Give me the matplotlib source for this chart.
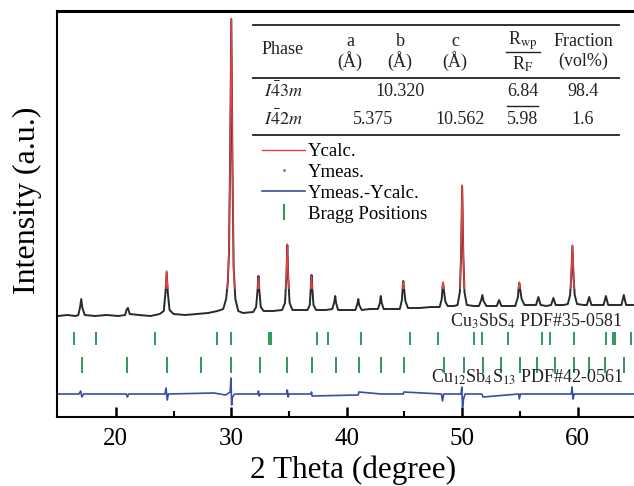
import matplotlib
matplotlib.use('Agg')
import matplotlib.pyplot as plt
from matplotlib.lines import Line2D
from matplotlib.patches import Rectangle

plt.rcParams['font.family'] = ['Liberation Serif', 'DejaVu Serif']
plt.rcParams['mathtext.fontset'] = 'stix'

# observed / calculated profile (2theta, intensity a.u.)
two_theta = [15.0, 15.8, 16.5, 16.75, 16.9, 17.0, 17.1, 17.3, 18.2, 19.2, 20.2, 20.8, 20.95, 21.05, 21.2,
             22.0, 23.0, 23.8, 24.15, 24.3, 24.4, 24.5, 24.65, 25.0, 26.0, 27.0, 28.0, 28.8,
             29.3, 29.55, 29.7, 29.8, 29.9, 30.0, 30.1, 30.2, 30.35, 30.6, 31.0,
             31.9, 32.15, 32.28, 32.35, 32.42, 32.55, 32.8, 33.6,
             34.4, 34.65, 34.77, 34.85, 34.93, 35.05, 35.3, 36.1,
             36.6, 36.8, 36.88, 36.95, 37.02, 37.12, 37.35, 38.2,
             38.75, 38.92, 39.0, 39.08, 39.25, 40.0,
             40.75, 40.92, 41.0, 41.08, 41.3, 42.0,
             42.7, 42.87, 42.95, 43.03, 43.2, 44.0,
             44.6, 44.78, 44.85, 44.9, 44.97, 45.08, 45.3, 46.3, 47.3,
             48.05, 48.23, 48.3, 48.35, 48.42, 48.55, 48.75, 49.3,
             49.6, 49.8, 49.9, 50.0, 50.1, 50.2, 50.4, 51.0,
             51.45, 51.65, 51.75, 51.85, 52.1, 52.6,
             53.0, 53.2, 53.4, 54.2,
             54.6, 54.83, 54.9, 54.95, 55.02, 55.15, 55.4, 56.0,
             56.4, 56.6, 56.8, 57.3,
             57.7, 57.9, 58.1, 58.8,
             59.15, 59.35, 59.45, 59.55, 59.65, 59.75, 59.95, 60.5,
             60.8, 61.0, 61.2, 61.8,
             62.25, 62.45, 62.65, 63.3,
             63.8, 64.0, 64.2, 64.6, 65.0]
y_meas = [101, 102, 101, 102, 110, 118, 109, 102, 101, 102, 101, 102, 108, 109, 103,
          102, 101, 103, 106, 125, 145, 124, 107, 103, 102, 103, 104, 106,
          108, 118, 135, 165, 260, 398, 250, 150, 118, 106, 104,
          105, 110, 128, 141, 128, 110, 106, 106,
          107, 114, 140, 172, 140, 114, 107, 107,
          107, 112, 128, 142, 128, 112, 107, 107,
          108, 115, 121, 114, 107, 107,
          107, 113, 118, 112, 107, 108,
          108, 114, 121, 114, 108, 108,
          108, 117, 130, 136, 128, 116, 109, 109, 110,
          110, 118, 130, 134, 126, 115, 111, 111,
          112, 125, 160, 231, 160, 125, 112, 111,
          111, 117, 122, 116, 111, 111,
          111, 117, 111, 111,
          111, 120, 130, 134, 128, 118, 112, 112,
          112, 120, 112, 111,
          112, 119, 112, 112,
          113, 122, 140, 171, 140, 122, 113, 112,
          112, 120, 112, 112,
          112, 121, 112, 112,
          112, 122, 112, 112, 112]
y_calc = [101, 101, 101, 101, 109, 116, 109, 101, 101, 101, 102, 102, 107, 108, 102,
          102, 102, 103, 106, 124, 146, 124, 106, 103, 103, 103, 104, 105,
          108, 117, 133, 170, 265, 398, 255, 148, 117, 106, 104,
          105, 110, 127, 140, 128, 110, 106, 106,
          107, 114, 141, 173, 141, 114, 107, 107,
          107, 112, 128, 141, 128, 112, 107, 107,
          108, 115, 121, 114, 107, 107,
          107, 113, 117, 112, 107, 108,
          108, 114, 120, 114, 108, 108,
          108, 117, 129, 135, 128, 116, 109, 109, 110,
          110, 119, 131, 135, 126, 115, 111, 111,
          112, 125, 162, 232, 162, 125, 112, 111,
          111, 117, 123, 116, 111, 111,
          111, 117, 111, 111,
          111, 120, 131, 135, 128, 118, 112, 112,
          112, 120, 112, 111,
          112, 119, 112, 112,
          113, 122, 141, 172, 141, 122, 113, 112,
          112, 120, 112, 112,
          112, 121, 112, 112,
          112, 122, 112, 112, 112]

# difference curve (offset)
diff_x = [15.0, 16.8, 16.95, 17.05, 17.2, 20.9, 21.0, 21.1, 24.25, 24.35, 24.45, 24.55, 28.5, 29.5,
          29.9, 29.97, 30.03, 30.1, 30.3, 32.3, 32.35, 32.42, 32.5, 34.8, 34.85, 34.92, 35.0,
          36.9, 36.95, 37.0, 41.0, 41.05, 43.0, 44.9, 44.95, 48.2, 48.3, 48.4, 49.9, 49.97,
          50.03, 50.12, 50.25, 51.7, 51.8, 54.9, 54.95, 55.05, 59.45, 59.52, 59.6, 59.7, 65.0]
diff_y = [23, 23, 26, 20, 23, 23, 20, 23, 23, 29, 17, 23, 24, 22,
          25, 39, 12, 20, 23, 23, 26, 21, 23, 23, 27, 20, 23,
          23, 25, 21, 22, 25, 23, 23, 25, 23, 16, 23, 23, 30,
          10, 18, 23, 23, 20, 23, 18, 23, 23, 30, 18, 23, 23]

# Bragg positions
bragg_cu3sbs4 = [16.4, 18.3, 23.4, 28.8, 30.0, 33.25, 33.4, 37.45, 38.35, 41.2, 45.5, 47.9, 51.0,
                 51.7, 54.0, 56.95, 57.6, 59.7, 62.5, 63.05, 63.2, 64.6]
bragg_cu12sb4s13 = [17.1, 21.0, 24.4, 27.4, 30.0, 32.5, 34.8, 37.0, 39.1, 41.1, 43.0, 44.95, 48.4,
                    50.2, 51.8, 53.4, 55.0, 56.5, 58.0, 59.65, 61.0, 62.4, 64.0]

W, H = 634, 486


def fx(x):
    return x / W


def fy(y):
    return 1 - y / H


fig = plt.figure(figsize=(6.34, 4.86), dpi=100)
ax = fig.add_axes([fx(57), fy(417), fx(634 - 57) + 0.003, (417 - 11) / H])

red = '#e8413f'
blue = '#3550a6'
green = '#2f9a5a'

ax.plot(two_theta, y_meas, color='#2a2a2a', lw=1.4, zorder=2)
calc_line, = ax.plot(two_theta, y_calc, color=red, lw=1.0, zorder=3)
calc_line.set_clip_path(Rectangle((15, 128), 50, 400, transform=ax.transData))
diff_line, = ax.plot(diff_x, diff_y, color=blue, lw=1.2, zorder=2)
ax.vlines(bragg_cu3sbs4, 72, 85, color=green, lw=1.4)
ax.vlines(bragg_cu12sb4s13, 44, 60, color=green, lw=1.4)

ax.set_xlim(14.9, 65.05)
ax.set_ylim(0, 406)
ax.set_xticks([20, 30, 40, 50, 60])
ax.set_xticks([25, 35, 45, 55, 65], minor=True)
ax.set_yticks([])
ax.tick_params(axis='x', which='major', direction='in', length=7, width=1.8, labelsize=18, pad=8)
ax.tick_params(axis='x', which='minor', direction='in', length=4, width=1.5)
for s in ['left', 'bottom']:
    ax.spines[s].set_linewidth(1.5)
ax.spines['top'].set_linewidth(2.2)
ax.spines['right'].set_visible(False)

ax.set_xlabel('2 Theta (degree)', fontsize=22.5, va='center')
ax.xaxis.set_label_coords((352 - 57) / 577, (417 - 470) / 406)
ax.set_ylabel('Intensity (a.u.)', fontsize=23, va='center')
ax.yaxis.set_label_coords((28 - 57) / 577, (417 - 200) / 406)

# phase labels
fig.text(fx(622), fy(321), r'Cu$_3$SbS$_4$ PDF#35-0581', fontsize=13, ha='right', va='center', color='#222222')
fig.text(fx(623), fy(377), r'Cu$_{12}$Sb$_4$S$_{13}$ PDF#42-0561', fontsize=13, ha='right', va='center',
         color='#222222')

# legend
handles = [calc_line,
           Line2D([], [], ls='none', marker='.', ms=2.5, color='0.55'),
           diff_line,
           Line2D([], [], ls='none', marker='|', ms=11, mew=1.5, color=green)]
labels = ['Ycalc.', 'Ymeas.', 'Ymeas.-Ycalc.', 'Bragg Positions']
ax.legend(handles, labels, loc='upper left', bbox_to_anchor=(fx(262), fy(143)),
          bbox_transform=fig.transFigure, frameon=False, fontsize=13.5, borderpad=0, borderaxespad=0,
          handlelength=2.3, handletextpad=0.15, labelspacing=0.2)

# refinement table
tk = dict(fontsize=13, ha='center', va='center', color='#222222')
for y in [25, 78, 135]:
    fig.add_artist(Line2D([fx(253), fx(619)], [fy(y), fy(y)], color='#222222', lw=1.3))
fig.add_artist(Line2D([fx(506), fx(540)], [fy(52), fy(52)], color='#222222', lw=1.0))
fig.add_artist(Line2D([fx(507), fx(538)], [fy(106), fy(106)], color='#222222', lw=1.0))
fig.text(fx(283), fy(50), 'Phase', **tk)
for xc, name in [(350, 'a'), (400, 'b'), (455, 'c')]:
    fig.text(fx(xc), fy(41), name, **tk)
    fig.text(fx(xc), fy(61), '(Å)', **tk)
fig.text(fx(523), fy(41), r'R$_{\rm wp}$', **tk)
fig.text(fx(523), fy(64), r'R$_{\rm F}$', **tk)
fig.text(fx(583), fy(41), 'Fraction', **tk)
fig.text(fx(583), fy(61), '(vol%)', **tk)

fig.text(fx(283), fy(91), r'$\mathit{I\bar{4}3m}$', **tk)
fig.text(fx(400), fy(91), '10.320', **tk)
fig.text(fx(523), fy(91), '6.84', **tk)
fig.text(fx(583), fy(91), '98.4', **tk)
fig.text(fx(283), fy(119), r'$\mathit{I\bar{4}2m}$', **tk)
fig.text(fx(373), fy(119), '5.375', **tk)
fig.text(fx(460), fy(119), '10.562', **tk)
fig.text(fx(523), fy(119), '5.98', **tk)
fig.text(fx(583), fy(119), '1.6', **tk)

fig.savefig('out.png', dpi=100)
